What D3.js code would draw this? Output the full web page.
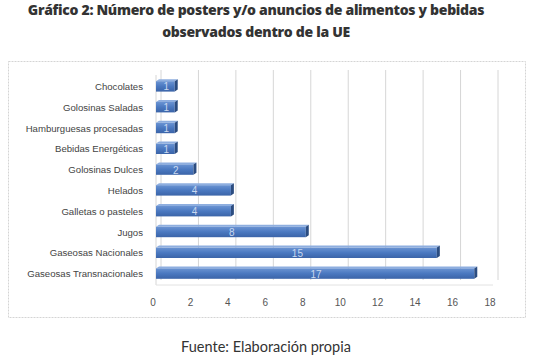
<!DOCTYPE html>
<html>
<head>
<meta charset="utf-8">
<script src="https://cdn.jsdelivr.net/npm/d3@7"></script>
<style>
  body { margin: 0; background: #fff; }
  svg { display: block; }
</style>
</head>
<body>
<script>
// data (top to bottom)
var categories = ["Chocolates", "Golosinas Saladas", "Hamburguesas procesadas", "Bebidas Energéticas",
  "Golosinas Dulces", "Helados", "Galletas o pasteles", "Jugos", "Gaseosas Nacionales", "Gaseosas Transnacionales"];
var values = [1, 1, 1, 1, 2, 4, 4, 8, 15, 17];
var ticks = [0, 2, 4, 6, 8, 10, 12, 14, 16, 18];

var width = 542, height = 362;

var svg = d3.select("body").append("svg")
    .attr("width", width)
    .attr("height", height);

var defs = svg.append("defs");
var grad = defs.append("linearGradient")
    .attr("id", "barGrad")
    .attr("x1", 0).attr("y1", 0).attr("x2", 0).attr("y2", 1);
grad.append("stop").attr("offset", "0%").attr("stop-color", "#6a93d2");
grad.append("stop").attr("offset", "50%").attr("stop-color", "#4a78c0");
grad.append("stop").attr("offset", "100%").attr("stop-color", "#3b64a8");

// title
svg.append("text")
    .attr("x", 256).attr("y", 15)
    .attr("text-anchor", "middle")
    .style("font-family", "Open Sans")
    .style("font-weight", "800")
    .style("font-size", "14px")
    .style("letter-spacing", "-0.3px")
    .style("fill", "#333")
    .text("Gráfico 2: Número de posters y/o anuncios de alimentos y bebidas");
svg.append("text")
    .attr("x", 256).attr("y", 37)
    .attr("text-anchor", "middle")
    .style("font-family", "Open Sans")
    .style("font-weight", "800")
    .style("font-size", "14px")
    .style("letter-spacing", "-0.3px")
    .style("fill", "#333")
    .text("observados dentro de la UE");

// chart frame
svg.append("rect")
    .attr("x", 8.5).attr("y", 61.5)
    .attr("width", 517).attr("height", 256)
    .attr("fill", "none")
    .attr("stroke", "#d4d4d4")
    .attr("stroke-dasharray", "2,1");

var depth = 5;

var x = d3.scaleLinear()
    .domain([0, 18])
    .range([156, 493]);

var y = d3.scaleBand()
    .domain(categories)
    .range([76, 284])
    .paddingInner(0.5)
    .paddingOuter(0.25);

// gridlines (back wall, shifted for the 3D depth)
svg.append("g").selectAll("line")
    .data(ticks)
    .enter().append("line")
    .attr("x1", function(d) { return x(d) + depth; })
    .attr("x2", function(d) { return x(d) + depth; })
    .attr("y1", 70)
    .attr("y2", 280)
    .attr("stroke", "#d6d6d6")
    .attr("stroke-width", 1);

// floor / left wall
svg.append("line")
    .attr("x1", x(0)).attr("x2", x(0))
    .attr("y1", 75).attr("y2", 285)
    .attr("stroke", "#d6d6d6");
svg.append("line")
    .attr("x1", x(0)).attr("x2", x(18))
    .attr("y1", 285).attr("y2", 285)
    .attr("stroke", "#e2e2e2");

// x axis tick labels
svg.append("g").selectAll("text")
    .data(ticks)
    .enter().append("text")
    .attr("x", function(d) { return x(d) - 3; })
    .attr("y", 306)
    .attr("text-anchor", "middle")
    .style("font-family", "Liberation Sans")
    .style("font-size", "10px")
    .style("fill", "#555")
    .text(function(d) { return d; });

// category labels
svg.append("g").selectAll("text")
    .data(categories)
    .enter().append("text")
    .attr("x", 143)
    .attr("y", function(d) { return y(d) + y.bandwidth() / 2 + 3.5; })
    .attr("text-anchor", "end")
    .style("font-family", "Liberation Sans")
    .style("font-size", "9.6px")
    .style("fill", "#444")
    .text(function(d) { return d; });

var bars = svg.append("g").selectAll("g")
    .data(values)
    .enter().append("g");

// top face
bars.append("polygon")
    .attr("points", function(d, i) {
      var y0 = y(categories[i]), x0 = x(0), x1 = x(d);
      return [[x0, y0], [x0 + 3, y0 - 2], [x1 + 3, y0 - 2], [x1, y0]].join(" ");
    })
    .attr("fill", "#8eaedf");

// front face
bars.append("rect")
    .attr("x", x(0))
    .attr("y", function(d, i) { return y(categories[i]); })
    .attr("width", function(d) { return x(d) - x(0); })
    .attr("height", y.bandwidth())
    .attr("fill", "url(#barGrad)");

// right face
bars.append("polygon")
    .attr("points", function(d, i) {
      var y0 = y(categories[i]), x1 = x(d), h = y.bandwidth();
      return [[x1, y0], [x1 + 3, y0 - 2], [x1 + 3, y0 + h - 2], [x1, y0 + h]].join(" ");
    })
    .attr("fill", "#2b4c80");

// value labels
bars.append("text")
    .attr("x", function(d) { return (x(0) + x(d)) / 2 + 1; })
    .attr("y", function(d, i) { return y(categories[i]) + y.bandwidth() / 2 + 4; })
    .attr("text-anchor", "middle")
    .style("font-family", "Liberation Sans")
    .style("font-size", "10px")
    .style("fill", "#c9d8ef")
    .text(function(d) { return d; });

// source
svg.append("text")
    .attr("x", 266).attr("y", 352)
    .attr("text-anchor", "middle")
    .style("font-family", "Lato")
    .style("font-size", "14.5px")
    .style("fill", "#333")
    .text("Fuente: Elaboración propia");
</script>
</body>
</html>
